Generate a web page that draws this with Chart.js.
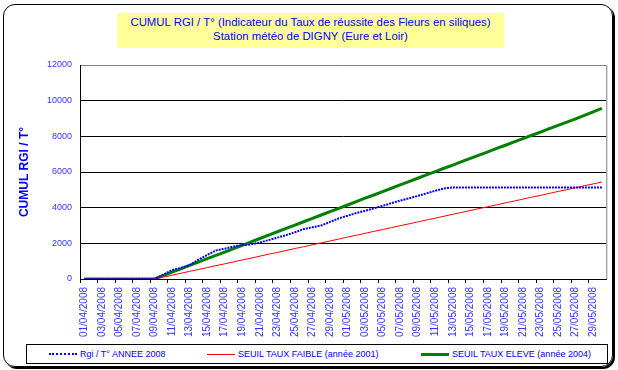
<!DOCTYPE html>
<html>
<head>
<meta charset="utf-8">
<title>CUMUL RGI / T° - DIGNY</title>
<script src="https://cdn.jsdelivr.net/npm/chart.js@4.4.1/dist/chart.umd.min.js"></script>
<style>
    body { margin: 0; background: #fff; }
    #wrap { position: relative; width: 618px; height: 370px; overflow: hidden; }
    #frame {
        position: absolute; left: 3px; top: 4px; width: 610px; height: 363px;
        box-sizing: border-box; border: 1px solid #000; border-radius: 12px;
        box-shadow: 2px 2px 0 #000;
    }
    #chart { position: absolute; left: 0; top: 0; }
    #title {
        position: absolute; left: 117px; top: 13px; width: 387px; height: 35px;
        box-sizing: border-box; padding-top: 3px; background: #ffff99; color: #0000ff;
        font: 11.4px 'Liberation Sans', Arial, sans-serif; line-height: 13.5px; text-align: center;
    }
    #legend {
        position: absolute; left: 26px; top: 344px; width: 582px; height: 20px;
        box-sizing: border-box; border: 1px solid #000; background: #fff;
        display: flex; align-items: center; padding-left: 22px;
        font: 9px 'Liberation Sans', Arial, sans-serif; color: #0000ff;
    }
    #legend .item { display: flex; align-items: center; white-space: nowrap; }
    #legend .item:nth-child(1) { width: 158px; }
    #legend .item:nth-child(2) { width: 214px; }
    #legend .sample { display: inline-block; width: 28px; height: 0; margin-right: 3px; }
</style>
</head>
<body>
<div id="wrap">
    <div id="frame"></div>
    <canvas id="chart" width="618" height="370"></canvas>
    <div id="title">CUMUL RGI / T° (Indicateur du Taux de réussite des Fleurs en siliques)<br>Station météo de DIGNY (Eure et Loir)</div>
    <div id="legend"></div>
</div>
<script>
// dates (one per day)
const dates = [
    '01/04/2008', '02/04/2008', '03/04/2008', '04/04/2008', '05/04/2008', '06/04/2008',
    '07/04/2008', '08/04/2008', '09/04/2008', '10/04/2008', '11/04/2008', '12/04/2008',
    '13/04/2008', '14/04/2008', '15/04/2008', '16/04/2008', '17/04/2008', '18/04/2008',
    '19/04/2008', '20/04/2008', '21/04/2008', '22/04/2008', '23/04/2008', '24/04/2008',
    '25/04/2008', '26/04/2008', '27/04/2008', '28/04/2008', '29/04/2008', '30/04/2008',
    '01/05/2008', '02/05/2008', '03/05/2008', '04/05/2008', '05/05/2008', '06/05/2008',
    '07/05/2008', '08/05/2008', '09/05/2008', '10/05/2008', '11/05/2008', '12/05/2008',
    '13/05/2008', '14/05/2008', '15/05/2008', '16/05/2008', '17/05/2008', '18/05/2008',
    '19/05/2008', '20/05/2008', '21/05/2008', '22/05/2008', '23/05/2008', '24/05/2008',
    '25/05/2008', '26/05/2008', '27/05/2008', '28/05/2008', '29/05/2008', '30/05/2008'
];

// Rgi / T° année 2008
const rgi2008 = [
    0, 0, 0, 0, 0, 0, 0, 0, 0, 250,
    500, 620, 780, 1080, 1350, 1600, 1700, 1820, 1900, 1940,
    2050, 2180, 2320, 2460, 2620, 2800, 2900, 3000, 3200, 3400,
    3550, 3700, 3820, 3960, 4100, 4250, 4400, 4520, 4660, 4800,
    4950, 5080, 5130, 5130, 5130, 5130, 5130, 5130, 5130, 5130,
    5130, 5130, 5130, 5130, 5130, 5130, 5130, 5130, 5130, 5130
];

// seuil taux faible (année 2001)
const seuilFaible2001 = [
    0, 0, 0, 0, 0, 0, 0, 0, 0, 110,
    210, 320, 430, 530, 640, 750, 850, 960, 1070, 1170,
    1280, 1390, 1490, 1600, 1710, 1810, 1920, 2030, 2130, 2240,
    2350, 2450, 2560, 2670, 2770, 2880, 2990, 3090, 3200, 3310,
    3410, 3520, 3630, 3730, 3840, 3950, 4050, 4160, 4270, 4370,
    4480, 4590, 4690, 4800, 4910, 5010, 5120, 5230, 5330, 5440
];

// seuil taux élevé (année 2004)
const seuilEleve2004 = [
    0, 0, 0, 0, 0, 0, 0, 0, 0, 190,
    380, 570, 760, 950, 1140, 1320, 1510, 1700, 1890, 2080,
    2270, 2460, 2650, 2840, 3020, 3210, 3400, 3590, 3780, 3960,
    4150, 4340, 4530, 4710, 4900, 5090, 5280, 5460, 5650, 5840,
    6020, 6210, 6390, 6580, 6760, 6950, 7130, 7320, 7500, 7690,
    7870, 8060, 8240, 8430, 8610, 8800, 8980, 9170, 9370, 9570
];

const yMax = 12000;
const yStep = 2000;

// gray border on the right of the plot area
const plotBorder = {
    id: 'plotBorder',
    beforeDatasetsDraw(chart) {
        const { ctx, chartArea } = chart;
        ctx.save();
        ctx.strokeStyle = '#808080';
        ctx.lineWidth = 1;
        ctx.beginPath();
        ctx.moveTo(chartArea.right + 0.5, chartArea.top);
        ctx.lineTo(chartArea.right + 0.5, chartArea.bottom);
        ctx.stroke();
        ctx.restore();
    }
};

const chart = new Chart(document.getElementById('chart'), {
    type: 'line',
    data: {
        labels: dates,
        datasets: [{
            label: 'Rgi / T° ANNEE 2008',
            data: rgi2008,
            borderColor: '#0000ff',
            borderWidth: 2,
            borderDash: [2, 1],
            pointRadius: 0
        }, {
            label: 'SEUIL TAUX FAIBLE (année 2001)',
            data: seuilFaible2001,
            borderColor: '#ff0000',
            borderWidth: 1,
            pointRadius: 0
        }, {
            label: 'SEUIL TAUX ELEVE (année 2004)',
            data: seuilEleve2004,
            borderColor: '#008000',
            borderWidth: 3,
            pointRadius: 0
        }]
    },
    options: {
        responsive: false,
        animation: false,
        layout: { padding: { left: 0, right: 11, top: 65, bottom: 0 } },
        plugins: {
            legend: { display: false },
            title: { display: false },
            tooltip: { enabled: false }
        },
        scales: {
            x: {
                offset: true,
                grid: {
                    offset: true,
                    drawOnChartArea: false,
                    tickLength: 4,
                    color: c => c.index % 2 === 0 ? '#000' : 'rgba(0,0,0,0)'
                },
                border: { color: '#000', width: 1 },
                ticks: {
                    autoSkip: false,
                    minRotation: 90,
                    maxRotation: 90,
                    padding: 4,
                    color: '#3333ff',
                    font: { family: 'Liberation Sans', size: 10 },
                    callback: function (value, index) {
                        return index % 2 === 0 ? this.getLabelForValue(value) : '';
                    }
                },
                afterFit: scale => { scale.height = 91; }
            },
            y: {
                min: 0,
                max: yMax,
                ticks: {
                    stepSize: yStep,
                    padding: 8,
                    color: '#3333ff',
                    font: { family: 'Liberation Sans', size: 9 },
                    callback: v => String(v)
                },
                grid: {
                    drawTicks: false,
                    color: c => (c.tick && c.tick.value === yMax) ? '#808080' : '#000'
                },
                border: { color: '#000', width: 1 },
                title: {
                    display: true,
                    text: 'CUMUL RGI / T°',
                    color: '#0000ff',
                    font: { family: 'Liberation Sans', size: 12, weight: 'bold' },
                    padding: { top: 17, bottom: 0 }
                },
                afterFit: scale => { scale.width = 80; }
            }
        }
    },
    plugins: [plotBorder]
});

// legend built from the datasets
const legendEl = document.getElementById('legend');
chart.data.datasets.forEach(ds => {
    const item = document.createElement('div');
    item.className = 'item';
    const sample = document.createElement('span');
    sample.className = 'sample';
    const style = ds.borderDash ? 'dotted' : 'solid';
    sample.style.borderTop = ds.borderWidth + 'px ' + style + ' ' + ds.borderColor;
    const text = document.createElement('span');
    text.textContent = ds.label;
    item.appendChild(sample);
    item.appendChild(text);
    legendEl.appendChild(item);
});
</script>
</body>
</html>
